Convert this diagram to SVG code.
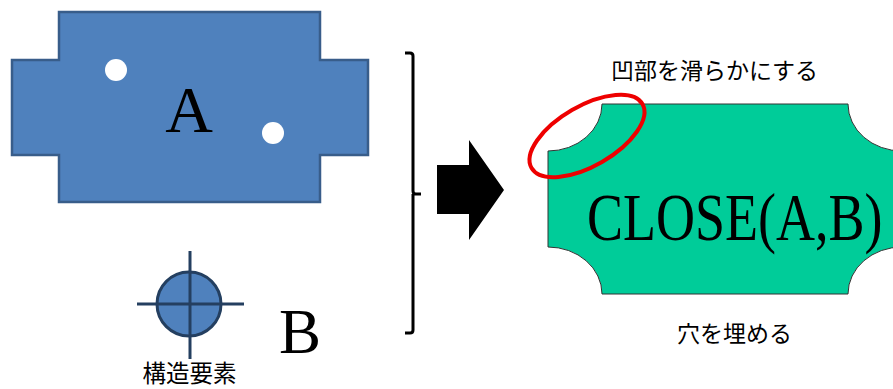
<svg xmlns="http://www.w3.org/2000/svg" width="893" height="389" viewBox="0 0 893 389">
<style>
.serif{font-family:"Liberation Serif","Times New Roman",serif;fill:#000}
.jp{font-family:"Noto Sans CJK JP","Noto Sans",sans-serif;fill:#000;font-size:23px}
.blue{fill:#4F81BD;stroke:#385D8A;stroke-width:2.5}
.dark{stroke:#243F60;stroke-width:3;fill:none}
</style>
<rect width="893" height="389" fill="#fff"/>
<g id="shapeA">
<path class="blue" d="M59,12 H320 V60 H368 V155 H320 V202 H59 V155 H12 V60 H59 Z"/>
<circle cx="116" cy="70" r="11" fill="#fff"/>
<circle cx="273" cy="133" r="11" fill="#fff"/>
<text class="serif" x="189" y="132" font-size="66" text-anchor="middle">A</text>
</g>
<g id="elementB">
<circle cx="189" cy="304" r="32" fill="#4F81BD" stroke="#243F60" stroke-width="3"/>
<line class="dark" x1="137" y1="304" x2="244" y2="304"/>
<line class="dark" x1="190" y1="251" x2="190" y2="359"/>
<text class="jp" x="189.5" y="382" text-anchor="middle" style="font-size:23.5px">構造要素</text>
<text class="serif" x="300" y="353" font-size="63" text-anchor="middle">B</text>
</g>
<g id="connectors">
<path d="M405,53 H410 Q413,53 413,56 V191 Q413,194 416,194 H421 M413,194 V330 Q413,333 410,333 H405" fill="none" stroke="#000" stroke-width="3"/>
<path d="M437,165 H469 V140 L504,190 L469,240 V214 H437 Z" fill="#000"/>
</g>
<g id="result">
<path d="M602,104 H848 A54,47 0 0 0 902,151 V247 A54,47 0 0 0 848,294 H602 A54,47 0 0 0 548,247 V151 A54,47 0 0 0 602,104 Z" fill="#00CC99" stroke="#333" stroke-width="1"/>
<text class="serif" transform="translate(587,240) scale(1,1.25)" x="0" y="0" font-size="54">CLOSE(A,B)</text>
<ellipse cx="587" cy="136" rx="64" ry="30" transform="rotate(-30 587 136)" fill="none" stroke="#E00" stroke-width="4"/>
<text class="jp" x="714.5" y="79" text-anchor="middle">凹部を滑らかにする</text>
<text class="jp" x="734.5" y="342" text-anchor="middle">穴を埋める</text>
</g>
</svg>
